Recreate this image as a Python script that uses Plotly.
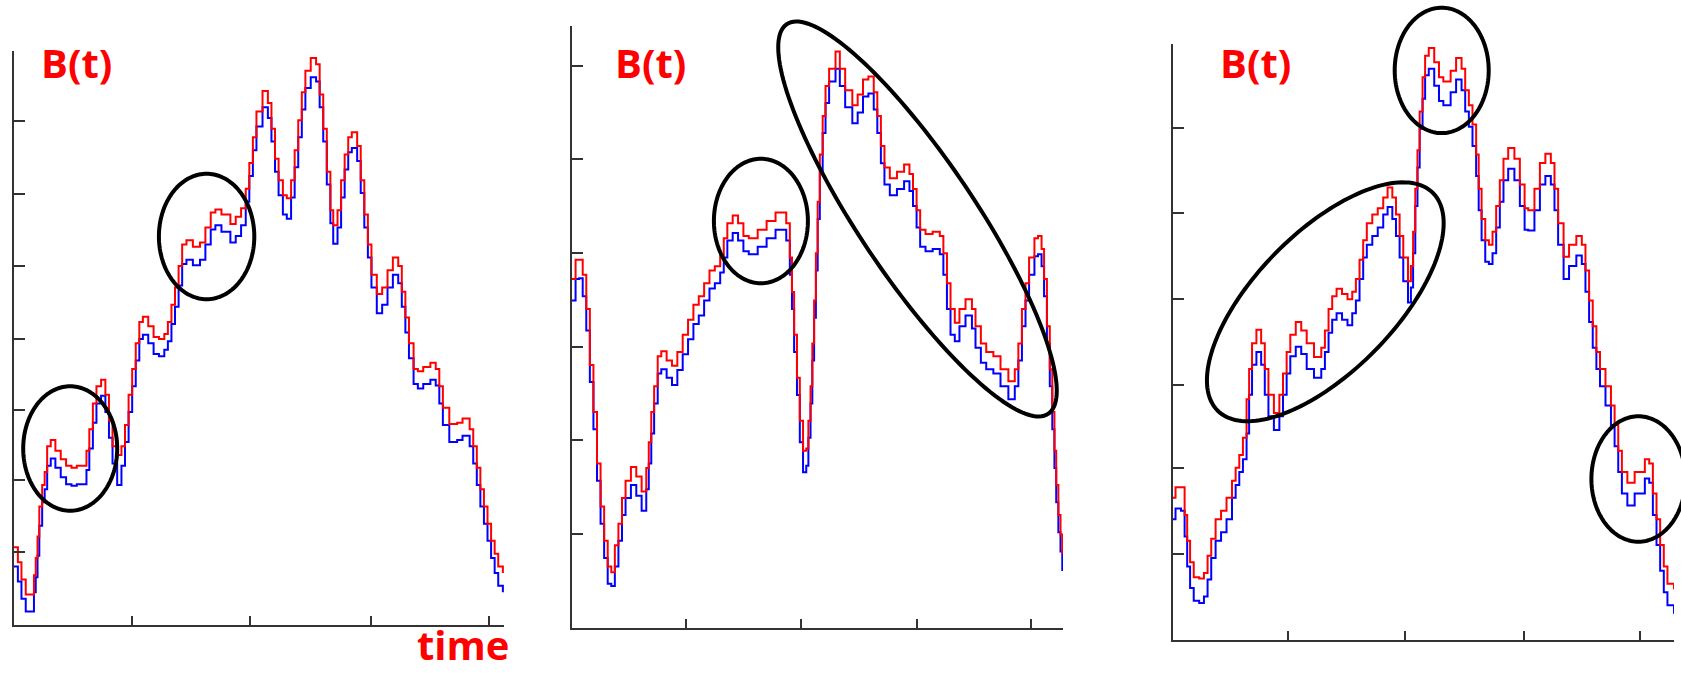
import numpy as np
import plotly.graph_objects as go

W, H = 1681, 673

# ---------------- data (arbitrary units) ----------------
# Panel 1
t1 = [0,12,22,34,47,57,62,67,72,80,
      87,94,104,117,132,147,162,177,197,204,
      212,222,232,245,257,267,277,290,302,312,
      322,332,342,352,362,377,392,407,422,432,
      442,452,462,472,484,502,522,537,552,565,
      582,607,622,637,650,660,670,680,697,712,
      722,732,742,754,765,777,787,797,807,817,
      832,847,857,867,877,887,895,907,917,927,
      937,947,962,972,982,992,1002,1017,1032,1047,
      1062,1077,1087,1097,1107,1120,1132,1147,1167,1182,
      1192,1202,1220,1242,1257,1277,1287,1297,1307,1317,
      1327,1337,1347,1357,1370]
red1 = [180,145,105,70,70,115,155,205,275,325,
        355,415,430,405,385,370,365,370,370,405,
        455,515,555,570,535,475,415,395,415,465,
        535,595,655,705,717,695,670,665,677,705,
        745,785,835,885,895,880,890,925,960,967,
        955,933,950,970,1015,1075,1135,1195,1243,1215,
        1155,1085,1035,1000,993,1035,1105,1175,1240,1290,
        1320,1305,1235,1155,1055,965,930,965,1035,1095,
        1135,1147,1115,1035,955,885,815,770,785,825,
        855,835,775,715,655,595,590,600,610,595,
        555,505,467,470,480,455,415,365,315,275,
        235,195,165,135,120]
blue1 = [135,100,60,30,30,75,110,160,230,285,
         315,370,387,365,343,327,323,327,327,360,
         410,470,515,533,495,435,375,325,370,425,
         495,555,615,665,675,655,630,625,640,660,
         700,740,790,840,850,837,850,885,920,930,
         915,890,905,930,985,1045,1105,1160,1205,1180,
         1125,1055,1000,955,945,995,1065,1135,1200,1250,
         1275,1265,1205,1125,1025,935,887,925,995,1060,
         1100,1110,1080,1005,925,855,785,725,745,785,
         815,795,740,680,620,560,550,560,570,557,
         515,465,425,430,440,415,375,325,275,235,
         195,155,120,90,75]

# Panel 2
t2 = [0,10,20,30,40,50,60,70,80,90,
      100,110,120,130,140,150,165,180,195,208,
      215,222,230,240,250,265,280,295,310,325,
      340,355,370,385,400,415,425,435,450,465,
      480,495,520,545,570,590,600,610,616,622,
      630,638,647,656,662,668,673,678,683,688,
      694,702,710,720,738,750,765,785,800,815,
      830,845,855,865,875,890,910,930,945,955,
      965,975,990,1010,1030,1040,1050,1060,1072,1085,
      1102,1120,1130,1145,1160,1180,1200,1222,1240,1250,
      1260,1270,1280,1295,1305,1315,1322,1330,1338,1345,
      1351,1356,1362,1368,1373]
red2 = [813,858,858,823,743,613,503,383,283,203,
        143,130,193,243,303,343,375,353,318,373,
        433,503,563,633,645,623,611,643,683,718,
        753,773,803,833,843,868,908,943,961,943,
        913,908,928,948,968,968,943,863,783,683,
        583,483,413,418,483,563,663,763,873,993,
        1103,1193,1263,1303,1343,1303,1253,1218,1243,1278,
        1285,1248,1193,1123,1073,1048,1063,1080,1058,1023,
        973,928,918,923,913,873,803,743,711,743,
        766,743,703,663,643,633,603,575,603,663,
        743,803,863,908,913,883,813,703,603,503,
        413,333,263,218,173]
blue2 = [763,813,815,773,693,573,463,343,243,163,
         103,98,143,203,263,303,333,308,273,323,
         383,453,523,593,603,583,566,601,638,673,
         708,728,763,791,803,828,863,903,920,903,
         878,871,888,908,928,928,903,823,743,643,
         543,433,363,378,443,523,623,723,833,953,
         1063,1153,1223,1273,1303,1263,1213,1176,1201,1238,
         1245,1208,1153,1083,1033,1008,1023,1041,1018,983,
         933,888,878,883,871,823,743,683,668,703,
         728,698,653,618,603,593,563,533,563,623,
         703,763,823,866,871,843,773,663,563,463,
         373,293,223,178,133]

# Panel 3
t3 = [0,8,23,33,40,48,58,73,86,96,
      106,118,133,148,163,173,183,193,203,210,
      218,230,243,253,263,278,293,303,313,323,
      338,353,368,388,408,418,428,438,450,465,
      480,493,503,513,523,533,548,563,578,590,
      603,613,623,633,646,654,660,666,672,678,
      686,693,703,718,731,743,763,778,793,803,
      813,823,833,840,848,858,868,878,888,898,
      908,921,938,953,966,976,993,1008,1023,1038,
      1048,1058,1073,1088,1108,1123,1133,1143,1153,1163,
      1173,1188,1203,1213,1223,1233,1248,1268,1296,1308,
      1318,1328,1338,1348,1358,1376]
red3 = [330,355,355,290,230,180,145,142,155,195,
        235,280,300,330,370,400,430,470,560,630,
        690,722,690,630,570,528,570,620,670,710,
        740,720,690,658,680,720,770,800,817,805,
        793,810,840,885,930,970,990,1005,1030,1053,
        1030,990,940,890,835,870,950,1050,1140,1230,
        1310,1360,1378,1345,1310,1300,1325,1355,1330,1280,
        1245,1200,1130,1050,980,930,920,950,1010,1070,
        1120,1145,1120,1060,1005,1000,1050,1110,1132,1110,
        1050,970,892,920,940,920,860,790,730,670,
        630,590,545,500,440,390,365,390,420,410,
        340,280,220,170,130,117]
blue3 = [280,305,300,240,170,120,90,85,100,140,
         190,230,250,280,330,360,390,420,480,570,
         640,670,640,570,520,488,520,570,620,660,
         682,665,630,610,630,670,715,745,760,745,
         732,760,790,840,890,920,940,960,990,1008,
         980,940,890,835,785,820,900,1010,1100,1190,
         1260,1315,1330,1290,1255,1245,1275,1305,1280,1230,
         1195,1150,1080,1000,930,880,875,900,960,1020,
         1070,1097,1070,1010,955,953,1000,1060,1080,1060,
         1000,920,840,870,895,875,810,740,680,630,
         590,545,500,450,390,340,312,340,375,365,
         290,220,160,110,80,60]

# axis ticks (no labels shown)
xticks1 = [0, 332, 662, 1000, 1330]
yticks1 = [0, 168, 337, 500, 666, 835, 1003, 1172, 1337]
xticks2 = [0, 318, 640, 965, 1285]
yticks2 = [0, 220, 439, 655, 873, 1092, 1310]
xticks3 = [0, 318, 638, 965, 1283]
yticks3 = [0, 200, 400, 593, 793, 993, 1192, 1388]

series_label = "B(t)"
time_label = "time"

# ---------------- layout geometry (pixels) ----------------
panels = [
    dict(t=t1, r=red1, b=blue1, xr=[0, 1374], yr=[0, 1337], xt=xticks1, yt=yticks1,
         px=(13.6, 504.3), py=(50.6, 624.5), lab=39),
    dict(t=t2, r=red2, b=blue2, xr=[0, 1375], yr=[0, 1403], xt=xticks2, yt=yticks2,
         px=(572, 1063), py=(25.8, 628), lab=613),
    dict(t=t3, r=red3, b=blue3, xr=[0, 1376], yr=[0, 1388], xt=xticks3, yt=yticks3,
         px=(1172.6, 1674), py=(43.8, 639.5), lab=1218),
]

fig = go.Figure()
layout = dict(width=W, height=H, margin=dict(l=0, r=0, t=0, b=0),
              paper_bgcolor="white", plot_bgcolor="white", showlegend=False)
annotations = []
AX = "#333333"
for i, p in enumerate(panels, start=1):
    xa = "x" if i == 1 else f"x{i}"
    ya = "y" if i == 1 else f"y{i}"
    fig.add_trace(go.Scatter(x=p["t"], y=p["b"], mode="lines", line_shape="hv",
                             line=dict(color="#0000ff", width=2), xaxis=xa, yaxis=ya))
    fig.add_trace(go.Scatter(x=p["t"], y=p["r"], mode="lines", line_shape="hv",
                             line=dict(color="#ff0000", width=2), xaxis=xa, yaxis=ya))
    xkey = "xaxis" if i == 1 else f"xaxis{i}"
    ykey = "yaxis" if i == 1 else f"yaxis{i}"
    layout[xkey] = dict(domain=[p["px"][0] / W, p["px"][1] / W], anchor=ya,
                        range=p["xr"], tickvals=p["xt"], ticks="inside", ticklen=9,
                        tickwidth=2, tickcolor=AX, showline=True, linecolor=AX,
                        linewidth=2, showgrid=False, zeroline=False, showticklabels=False)
    layout[ykey] = dict(domain=[1 - p["py"][1] / H, 1 - p["py"][0] / H], anchor=xa,
                        range=p["yr"], tickvals=p["yt"], ticks="inside", ticklen=11,
                        tickwidth=2, tickcolor=AX, showline=True, linecolor=AX,
                        linewidth=2, showgrid=False, zeroline=False, showticklabels=False)
    annotations.append(dict(text=series_label, xref="paper", yref="paper",
                            x=p["lab"] / W, y=1 - 62 / H, xanchor="left", yanchor="middle",
                            showarrow=False,
                            font=dict(family="Open Sans", size=40, color="#ff0000", weight="bold")))

annotations.append(dict(text=time_label, xref="paper", yref="paper",
                        x=510 / W, y=0, xanchor="right", yanchor="bottom", borderpad=0,
                        showarrow=False,
                        font=dict(family="Open Sans", size=40, color="#ff0000", weight="bold")))
layout["annotations"] = annotations


def ell_path(cx, cy, a, b, deg, n=160):
    th = np.radians(deg)
    pts = []
    for k in range(n + 1):
        s = 2 * np.pi * k / n
        x = cx + a * np.cos(s) * np.cos(th) - b * np.sin(s) * np.sin(th)
        y = cy + a * np.cos(s) * np.sin(th) + b * np.sin(s) * np.cos(th)
        pts.append((x / W, 1 - y / H))
    return "M " + " L ".join(f"{x:.5f},{y:.5f}" for x, y in pts) + " Z"


ellipses = [
    (70.2, 448.5, 47, 62.2, 0),
    (206.6, 236.5, 47.7, 62.7, 0),
    (760.9, 221, 47, 62.2, 0),
    (917.5, 219, 234.6, 58, 56.15),
    (1441.7, 70.4, 47, 62.7, 0),
    (1325.3, 301.8, 153.1, 69.6, -45.4),
    (1638.4, 479, 47, 62.7, 0),
]
layout["shapes"] = [dict(type="path", xref="paper", yref="paper",
                         path=ell_path(*e), line=dict(color="black", width=4))
                    for e in ellipses]

fig.update_layout(**layout)
fig.write_html(
    "out.html",
    config={"displayModeBar": False},
    post_script="document.body.style.margin='0';document.body.style.overflow='hidden';"
                "document.documentElement.style.overflow='hidden';",
)
